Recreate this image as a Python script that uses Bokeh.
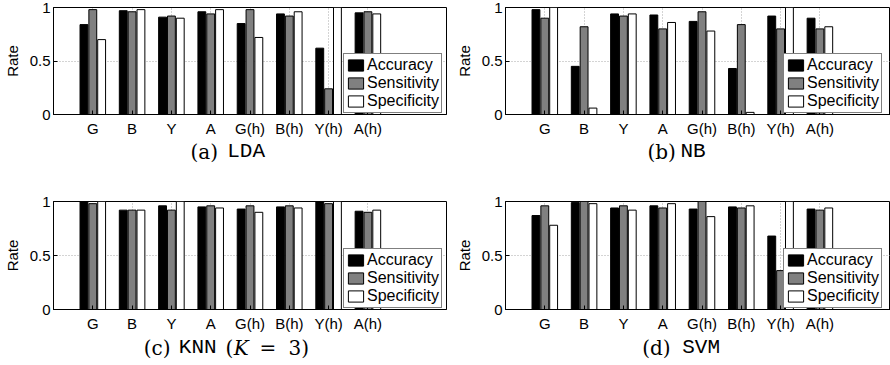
from bokeh.plotting import figure
from bokeh.models import Range1d, FixedTicker, Legend, LegendItem
from bokeh.layouts import column, row
from bokeh.core.properties import value
from bokeh.embed import file_html
from bokeh.resources import INLINE

categories = ["G", "B", "Y", "A", "G(h)", "B(h)", "Y(h)", "A(h)"]
series_names = ["Accuracy", "Sensitivity", "Specificity"]
series_colors = ["#000000", "#808080", "#ffffff"]
y_ticks = [0, 0.5, 1]
y_tick_labels = ["0", "0.5", "1"]

lda_accuracy = [0.84, 0.97, 0.91, 0.96, 0.85, 0.94, 0.62, 0.95]
lda_sensitivity = [0.98, 0.96, 0.92, 0.94, 0.98, 0.92, 0.24, 0.96]
lda_specificity = [0.70, 0.98, 0.90, 0.98, 0.72, 0.96, 1.00, 0.94]

nb_accuracy = [0.98, 0.45, 0.94, 0.93, 0.87, 0.43, 0.92, 0.90]
nb_sensitivity = [0.90, 0.82, 0.92, 0.80, 0.96, 0.84, 0.80, 0.80]
nb_specificity = [1.00, 0.06, 0.94, 0.86, 0.78, 0.02, 1.00, 0.82]

knn_accuracy = [1.00, 0.92, 0.96, 0.95, 0.93, 0.95, 1.00, 0.91]
knn_sensitivity = [0.98, 0.92, 0.92, 0.96, 0.96, 0.96, 0.98, 0.90]
knn_specificity = [1.00, 0.92, 1.00, 0.94, 0.90, 0.94, 1.00, 0.92]

svm_accuracy = [0.87, 0.99, 0.94, 0.96, 0.93, 0.95, 0.68, 0.93]
svm_sensitivity = [0.96, 1.00, 0.96, 0.94, 1.00, 0.94, 0.36, 0.92]
svm_specificity = [0.78, 0.98, 0.92, 0.98, 0.86, 0.96, 1.00, 0.94]

PX = 39.3          # pixels per category unit
OFFSETS = [-0.225, 0.0, 0.225]
BAR_W = 0.2
SANS = "Liberation Sans"
SERIF = "DejaVu Serif"
MONO = "Liberation Mono"


def make_panel(values, width, left, right, frame_w, top, frame_h, bottom,
               cap_h, cap_center, caption, legend_x):
    xmax = frame_w / PX
    height = top + frame_h + bottom
    p = figure(width=width, height=height, x_range=Range1d(0, xmax), y_range=Range1d(0, 1),
               output_backend="svg", toolbar_location=None,
               min_border_left=left, min_border_right=right, min_border_top=top,
               min_border_bottom=bottom)
    p.background_fill_color = "white"
    p.border_fill_color = "white"
    p.outline_line_color = "black"
    p.outline_line_alpha = 1
    p.outline_line_width = 1

    renderers = []
    for k, vals in enumerate(values):
        xs = [i + 1 + OFFSETS[k] for i in range(len(categories))]
        r = p.vbar(x=xs, top=vals, bottom=0, width=BAR_W,
                   fill_color=series_colors[k], line_color="black", line_width=1)
        renderers.append(r)

    ticks_x = [i + 1 for i in range(len(categories))]
    p.xaxis.ticker = FixedTicker(ticks=ticks_x)
    p.xaxis.major_label_overrides = {t: c for t, c in zip(ticks_x, categories)}
    p.yaxis.ticker = FixedTicker(ticks=y_ticks)
    p.yaxis.major_label_overrides = {t: s for t, s in zip(y_ticks, y_tick_labels)}
    for ax in (p.xaxis, p.yaxis):
        ax.major_label_text_font = SANS
        ax.major_label_text_font_size = "15px"
        ax.major_label_text_color = "black"
        ax.major_tick_in = 4
        ax.major_tick_out = 0
        ax.minor_tick_line_color = None
        ax.axis_line_color = "black"
        ax.major_tick_line_color = "black"
    p.xaxis.major_label_standoff = 5
    p.yaxis.major_label_standoff = 3
    p.yaxis.axis_label = "Rate"
    p.yaxis.axis_label_text_font = SANS
    p.yaxis.axis_label_text_font_size = "15px"
    p.yaxis.axis_label_text_font_style = "normal"
    p.yaxis.axis_label_text_color = "black"
    p.yaxis.axis_label_standoff = 6

    p.xgrid.ticker = FixedTicker(ticks=ticks_x)
    p.ygrid.ticker = FixedTicker(ticks=[0.5])
    p.grid.grid_line_color = "#a8a8a8"
    p.grid.grid_line_dash = "1 2"
    p.grid.grid_line_width = 1

    legend = Legend(items=[LegendItem(label=n, renderers=[r]) for n, r in zip(series_names, renderers)],
                    location=(legend_x, 1))
    legend.label_text_font = SANS
    legend.label_text_font_size = "16px"
    legend.label_text_color = "black"
    legend.glyph_width = 19
    legend.glyph_height = 14
    legend.label_height = 14
    legend.label_standoff = 2
    legend.spacing = 0
    legend.padding = 2
    legend.margin = 0
    legend.border_line_color = "black"
    legend.border_line_width = 1
    legend.background_fill_alpha = 1
    p.add_layout(legend)

    # caption strip below the axes, sharing the same horizontal scale
    c = figure(width=width, height=cap_h, x_range=Range1d(0, xmax), y_range=Range1d(0, cap_h),
               output_backend="svg", toolbar_location=None, x_axis_type=None, y_axis_type=None,
               min_border_left=left, min_border_right=right, min_border_top=0, min_border_bottom=0)
    c.outline_line_color = None
    c.background_fill_color = "white"
    c.border_fill_color = "white"
    cy = cap_h - cap_center
    for text, xpx, font, size, style in caption:
        c.text(x=[xpx / PX], y=[cy], text=[text], text_font=value(font),
               text_font_size=value(size), text_font_style=value(style),
               text_baseline="middle", text_align="left", text_color="black")
    return column(p, c)


cap_a = [("(a)", 137, SERIF, "20px", "normal"), ("LDA", 173.7, MONO, "21px", "normal")]
cap_b = [("(b)", 142, SERIF, "20px", "normal"), ("NB", 175, MONO, "21px", "normal")]
cap_c = [("(c)", 90.3, SERIF, "20px", "normal"), ("KNN", 125.3, MONO, "21px", "normal"),
         ("(", 172, SERIF, "20px", "normal"), ("K", 180.3, SERIF, "20px", "italic"),
         ("=", 206, SERIF, "20px", "normal"), ("3)", 235, SERIF, "20px", "normal")]
cap_d = [("(d)", 136.7, SERIF, "20px", "normal"), ("SVM", 176.7, MONO, "21px", "normal")]

# row 1: axes 7..118, caption centred near 151; row 2 starts at 193
pa = make_panel([lda_accuracy, lda_sensitivity, lda_specificity], 447, 53, 1, 393,
                7, 111, 21, 54, 12, cap_a, 290)
pb = make_panel([nb_accuracy, nb_sensitivity, nb_specificity], 443, 58, 0, 385,
                7, 111, 21, 54, 12, cap_b, 278)
# row 2: axes 201..313, caption centred near 347
pc = make_panel([knn_accuracy, knn_sensitivity, knn_specificity], 447, 53, 1, 393,
                8, 112, 21, 31, 13, cap_c, 290)
pd = make_panel([svm_accuracy, svm_sensitivity, svm_specificity], 443, 58, 0, 385,
                8, 112, 21, 31, 13, cap_d, 278)

layout = column(row(pa, pb), row(pc, pd))
open("out.html", "w").write(file_html(layout, INLINE))
